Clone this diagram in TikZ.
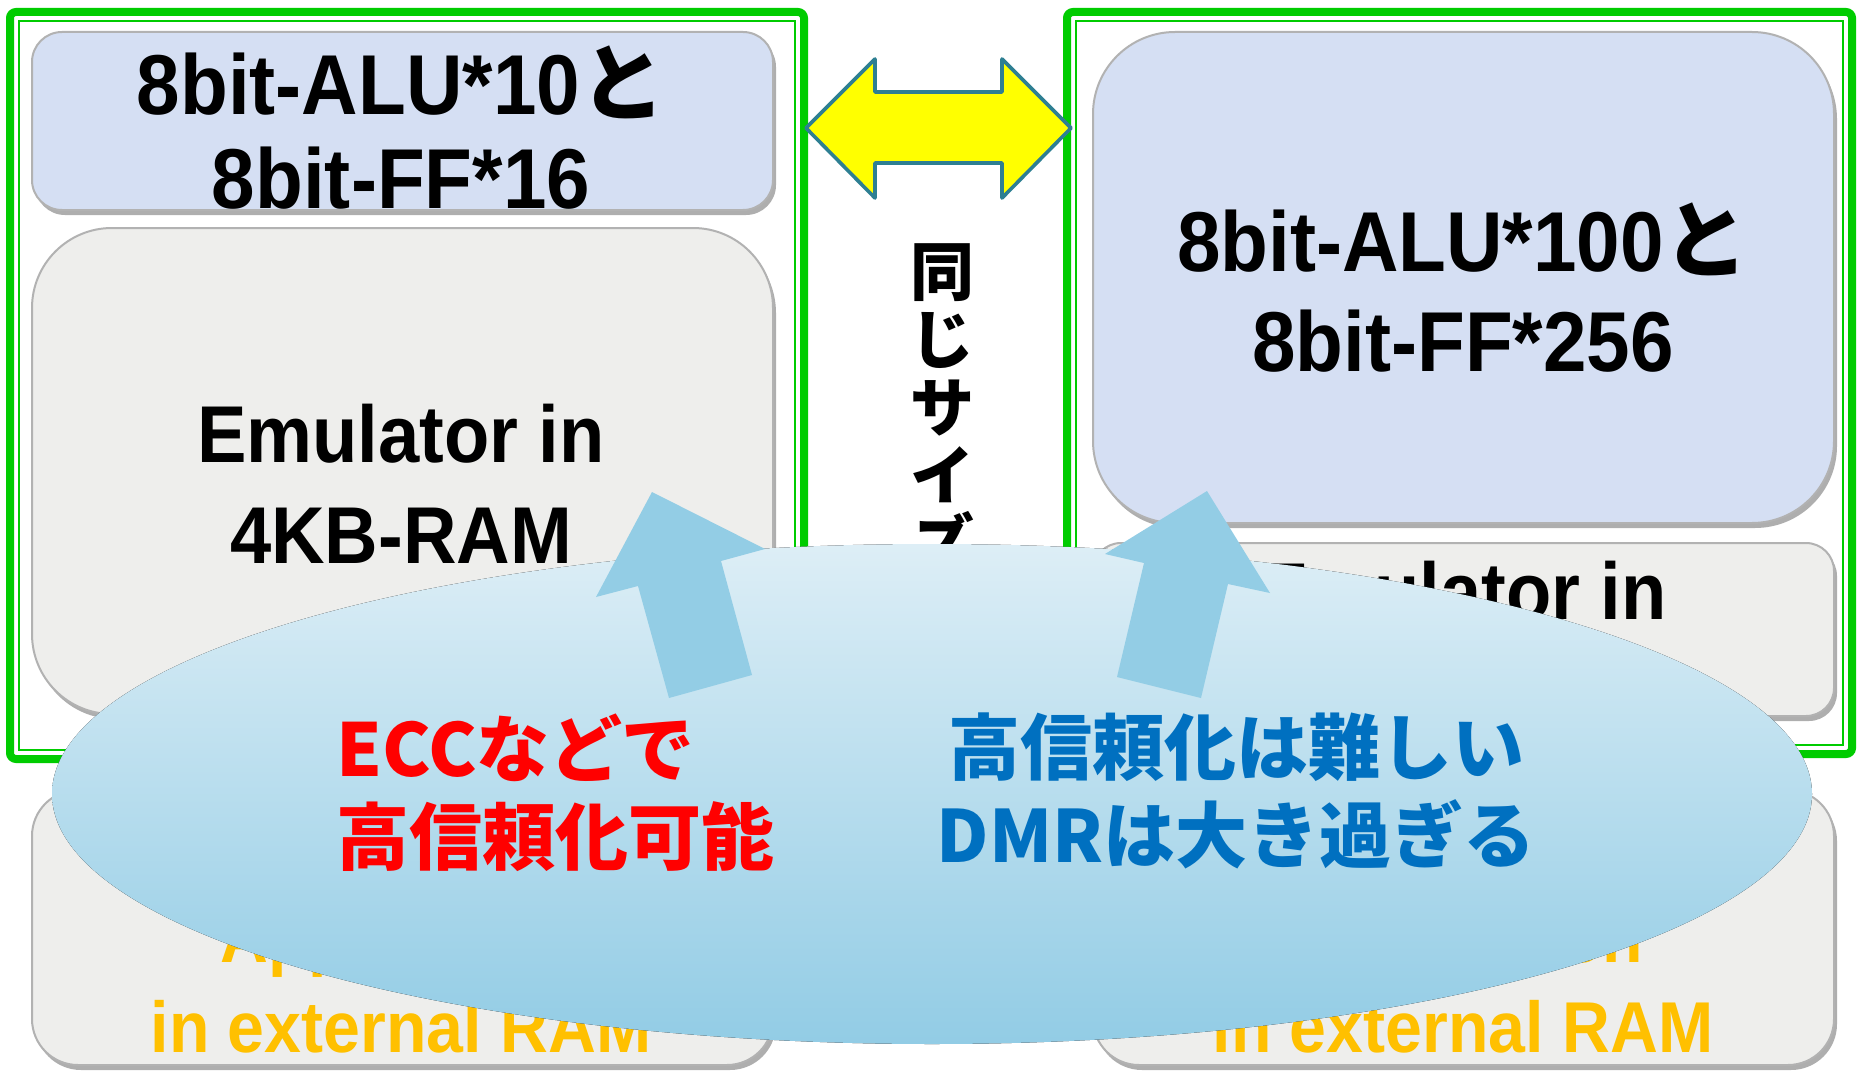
\documentclass[tikz,border=0pt]{standalone}
\usepackage{fontspec}
\setmainfont{Liberation Sans}
\newfontfamily\lat{Liberation Sans}[FakeStretch=0.92]
\newfontfamily\jp{Noto Sans CJK JP}
\usetikzlibrary{shadows}
\definecolor{frameg}{HTML}{00CC00}
\definecolor{arrowyel}{HTML}{FFFF00}
\definecolor{arrowteal}{HTML}{2E7F92}
\definecolor{blockblue}{HTML}{93CDE5}
\definecolor{elltop}{HTML}{DDEEF6}
\definecolor{ellbot}{HTML}{92CCE5}
\definecolor{txtred}{HTML}{FF0000}
\definecolor{txtblue}{HTML}{0070C0}
\definecolor{txtgold}{HTML}{FFC000}
\definecolor{boxblue}{HTML}{D5DFF3}
\definecolor{boxgray}{HTML}{EEEEEC}
\begin{document}
\begin{tikzpicture}[x=0.5pt,y=-0.5pt,
  bluebox/.style={fill=boxblue, draw=black!30, line width=1pt,
    drop shadow={shadow xshift=1.5pt, shadow yshift=-2.5pt, opacity=0.45, fill=black!70}},
  graybox/.style={fill=boxgray, draw=black!30, line width=1pt,
    drop shadow={shadow xshift=1.5pt, shadow yshift=-2.5pt, opacity=0.45, fill=black!70}},
  thickframe/.style={draw=frameg, line width=4pt, rounded corners=3pt},
  thinframe/.style={draw=frameg, line width=1.2pt},
  boxtext/.style={inner sep=0pt, align=center},
  uparrow/.style={fill=blockblue},
]
\useasboundingbox (0,0) rectangle (1858,1081);
\fill[white] (0,0) rectangle (1858,1081);

% green frames
\draw[thickframe] (10,12) rectangle (804,759);
\draw[thinframe] (19,21) rectangle (795,750);
\draw[thickframe] (1067,12) rectangle (1852,754);
\draw[thinframe] (1076,21) rectangle (1843,745);

% boxes
\draw[bluebox, rounded corners=15pt] (32,32) rectangle (773,210);
\draw[graybox, rounded corners=40pt] (32,228) rectangle (773,714);
\draw[graybox, rounded corners=23pt] (32,790) rectangle (773,1065);
\draw[bluebox, rounded corners=41pt] (1093,32) rectangle (1834,523);
\draw[graybox, rounded corners=14pt] (1093,543) rectangle (1834,716);
\draw[graybox, rounded corners=23pt] (1093,790) rectangle (1834,1065);

% box texts
\node[boxtext, font=\lat\bfseries\fontsize{42.5pt}{47pt}\selectfont] (aluL) at (401,128)
  {8bit-ALU*10{\jp\bfseries と}\\8bit-FF*16};
\node[boxtext, font=\lat\bfseries\fontsize{42.5pt}{50pt}\selectfont] (aluR) at (1463,288)
  {8bit-ALU*100{\jp\bfseries と}\\8bit-FF*256};
\node[boxtext, font=\lat\bfseries\fontsize{40.3pt}{50.5pt}\selectfont] (emuL) at (401,484)
  {Emulator in\\4KB-RAM};
\node[boxtext, font=\lat\bfseries\fontsize{40.3pt}{50.5pt}\selectfont] (emuR) at (1463,591)
  {Emulator in};
\node[boxtext, text=txtgold, font=\lat\bfseries\fontsize{36pt}{45pt}\selectfont] (appL) at (401,982)
  {Application\\in external RAM};
\node[boxtext, text=txtgold, font=\lat\bfseries\fontsize{36pt}{45pt}\selectfont] (appR) at (1463,982)
  {Application\\in external RAM};

% double arrow
\draw[fill=arrowyel, draw=arrowteal, line width=1.8pt, line join=round]
  (806,128) -- (875,59) -- (875,92) -- (1002,92) -- (1002,59) -- (1071,128)
  -- (1002,198) -- (1002,163) -- (875,163) -- (875,198) -- cycle;

% vertical text
\node[boxtext, anchor=north, font=\jp\bfseries\fontsize{32pt}{34pt}\selectfont] (same) at (942,243)
  {同\\じ\\サ\\イ\\ズ};

% ellipse
\fill[top color=elltop, bottom color=ellbot] (932,794) ellipse [x radius=440pt, y radius=125pt];

% up arrows
\fill[uparrow] (652,492) -- (765,549) -- (721,561) -- (752,675) -- (669,698) -- (638,586) -- (596,597) -- cycle;
\fill[uparrow] (1207,491) -- (1270,593) -- (1228,584) -- (1201,698) -- (1117,677) -- (1144,563) -- (1105,554) -- cycle;

% ellipse texts
\node[inner sep=0pt, align=left, anchor=west, text=txtred, font=\jp\bfseries\fontsize{36.5pt}{44pt}\selectfont] (ecc) at (336,793)
  {ECCなどで\\高信頼化可能};
\node[inner sep=0pt, align=center, text=txtblue, font=\jp\bfseries\fontsize{36pt}{44pt}\selectfont] (dmr) at (1236,791)
  {高信頼化は難しい\\DMRは大き過ぎる};
\end{tikzpicture}
\end{document}
